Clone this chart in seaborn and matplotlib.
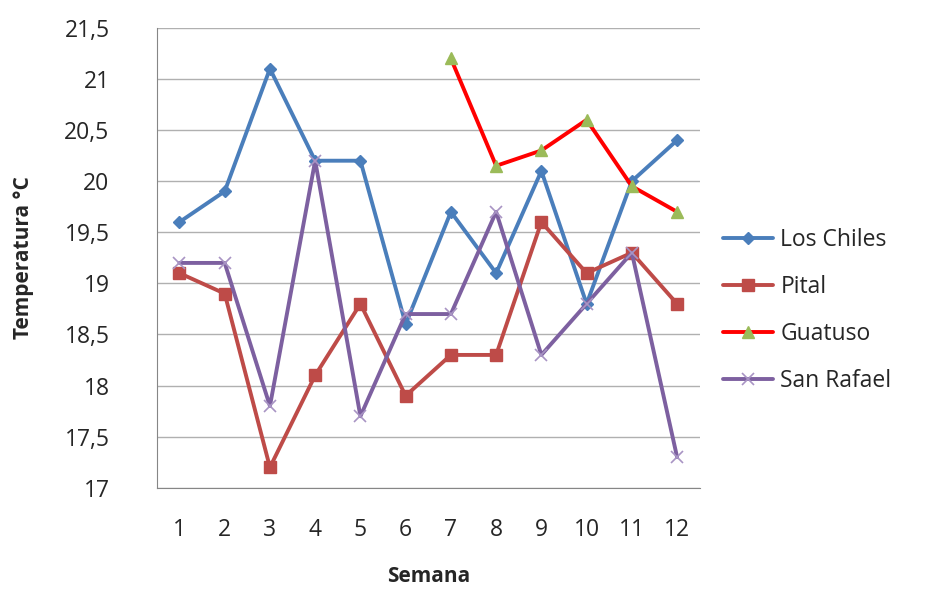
import numpy as np
import pandas as pd
import matplotlib
matplotlib.use("Agg")
import matplotlib.pyplot as plt
import seaborn as sns
from matplotlib.ticker import FuncFormatter

semana = list(range(1, 13))
los_chiles = [19.6, 19.9, 21.1, 20.2, 20.2, 18.6, 19.7, 19.1, 20.1, 18.8, 20.0, 20.4]
pital = [19.1, 18.9, 17.2, 18.1, 18.8, 17.9, 18.3, 18.3, 19.6, 19.1, 19.3, 18.8]
guatuso = [np.nan] * 6 + [21.2, 20.15, 20.3, 20.6, 19.95, 19.7]
san_rafael = [19.2, 19.2, 17.8, 20.2, 17.7, 18.7, 18.7, 19.7, 18.3, 18.8, 19.3, 17.3]

sns.set_style("white")
plt.rcParams['font.family'] = ['Open Sans', 'DejaVu Sans']

fig = plt.figure(figsize=(9.28, 5.92), dpi=100)
ax = fig.add_axes([0.169, 0.176, 0.585, 0.777])

# line color, marker, marker face color, marker size
series = [
    ("Los Chiles", los_chiles, "#4A7EBB", "D", "#4A7EBB", 6),
    ("Pital", pital, "#BE4B48", "s", "#BE4B48", 8),
    ("Guatuso", guatuso, "#FF0000", "^", "#9BBB59", 9),
    ("San Rafael", san_rafael, "#7D60A0", "x", "#7D60A0", 9),
]
for name, vals, col, mk, mcol, ms in series:
    df = pd.DataFrame({"semana": semana, "temp": vals}).dropna()
    sns.lineplot(data=df, x="semana", y="temp", ax=ax, color=col, lw=2.8,
                 marker=mk, markersize=ms, markerfacecolor=mcol,
                 markeredgecolor=mcol if mk != "x" else "#A894C4",
                 markeredgewidth=1 if mk != "x" else 1.2, label=name)

ax.set_xlim(0.5, 12.5)
ax.set_ylim(17, 21.5)
ax.set_xticks(semana)
ax.set_yticks(np.arange(17, 21.51, 0.5))
ax.yaxis.set_major_formatter(FuncFormatter(lambda v, p: f"{v:g}".replace(".", ",")))
ax.grid(axis="y", color="#B0B0B0", lw=1)
ax.set_axisbelow(True)
for s in ["top", "right"]:
    ax.spines[s].set_visible(False)
for s in ["left", "bottom"]:
    ax.spines[s].set_color("#868686")
ax.tick_params(axis="both", labelsize=16.5, length=0)
ax.tick_params(axis="y", pad=34)
ax.tick_params(axis="x", pad=22)
ax.set_xlabel("Semana", fontsize=15, fontweight="bold", labelpad=17)
ax.set_ylabel("Temperatura °C", fontsize=15, fontweight="bold", labelpad=22)

ax.legend(loc="center left", bbox_to_anchor=(1.005, 0.385), frameon=False,
          fontsize=16.5, handlelength=2.2, labelspacing=1.0, handletextpad=0.3)

fig.savefig("out.png", dpi=100)
